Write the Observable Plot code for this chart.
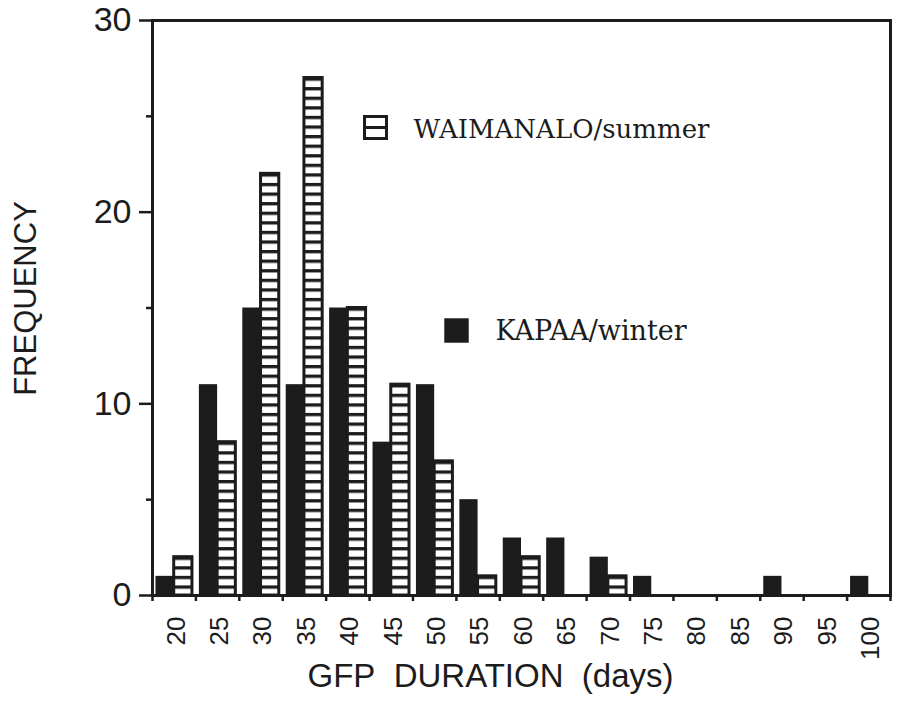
<!DOCTYPE html>
<html>
<head>
<meta charset="utf-8">
<script src="https://cdn.jsdelivr.net/npm/d3@7"></script>
<script src="https://cdn.jsdelivr.net/npm/@observablehq/plot@0.6"></script>
<style>
  html, body { margin: 0; padding: 0; background: #fff; }
</style>
</head>
<body>
<div id="chart"></div>
<script>
// GFP duration bins (days)
const bins = [20, 25, 30, 35, 40, 45, 50, 55, 60, 65, 70, 75, 80, 85, 90, 95, 100];
// KAPAA / winter (solid black bars)
const kapaaWinter = [1, 11, 15, 11, 15, 8, 11, 5, 3, 3, 2, 1, 0, 0, 1, 0, 1];
// WAIMANALO / summer (hatched bars)
const waimanaloSummer = [2, 8, 22, 27, 15, 11, 7, 1, 2, 0, 1, 0, 0, 0, 0, 0, 0];
// axis ticks
const yMajorTicks = [0, 10, 20, 30];
const yMinorTicks = [5, 15, 25];
const binEdges = [17.5, 22.5, 27.5, 32.5, 37.5, 42.5, 47.5, 52.5, 57.5, 62.5, 67.5, 72.5, 77.5, 82.5, 87.5, 92.5, 97.5, 102.5];
// texts
const seriesNames = ["WAIMANALO/summer", "KAPAA/winter"];
const xTitle = "GFP\u00a0\u00a0DURATION\u00a0\u00a0(days)";
const yTitle = "FREQUENCY";

const rows = bins.map((b, i) => ({bin: b, kapaa: kapaaWinter[i], waimanalo: waimanaloSummer[i]}));
const halfWidth = 2.1;
const ink = "#1c1c1c";
const serif = "'DejaVu Serif', 'Liberation Serif', serif";

const chart = Plot.plot({
  width: 897,
  height: 702,
  marginLeft: 152,
  marginRight: 7,
  marginTop: 20,
  marginBottom: 107,
  style: {fontFamily: "'Liberation Sans', Arial, sans-serif", color: ink, background: "#fff"},
  x: {domain: [17.5, 102.5]},
  y: {domain: [0, 30]},
  marks: [
    Plot.rectY(rows, {x1: d => d.bin - halfWidth, x2: d => d.bin, y1: 0, y2: d => d.kapaa, fill: ink}),
    Plot.rectY(rows.filter(d => d.waimanalo > 0), {x1: d => d.bin, x2: d => d.bin + halfWidth, y1: 0, y2: d => d.waimanalo, fill: "url(#hatch)", stroke: ink, strokeWidth: 3}),
    Plot.frame({stroke: ink, strokeWidth: 3}),
    Plot.axisY({ticks: yMajorTicks, tickSize: 13, tickPadding: 8, fontSize: 34, strokeWidth: 2.5, label: null}),
    Plot.axisY({ticks: yMinorTicks, tickSize: 6, tickFormat: () => "", strokeWidth: 2.5, label: null}),
    Plot.axisX({ticks: binEdges, tickSize: 6, tickFormat: () => "", strokeWidth: 2.5, label: null}),
    Plot.axisX({ticks: bins, tickSize: 0, tickPadding: 21, tickRotate: -90, fontSize: 26, dx: 2, label: null}),
    // legend
    Plot.dot([seriesNames[0]], {frameAnchor: "top-left", dx: 375 - 152, dy: 127 - 20, symbol: "square", r: 12.4, fill: "url(#legendHatch)", stroke: ink, strokeWidth: 3}),
    Plot.text([seriesNames[0]], {frameAnchor: "top-left", dx: 413 - 152, dy: 129 - 20, text: d => d, textAnchor: "start", lineAnchor: "middle", fontSize: 26, fontFamily: serif, fill: ink}),
    Plot.dot([seriesNames[1]], {frameAnchor: "top-left", dx: 456 - 152, dy: 330 - 20, symbol: "square", r: 13.8, fill: ink}),
    Plot.text([seriesNames[1]], {frameAnchor: "top-left", dx: 495 - 152, dy: 331 - 20, text: d => d, textAnchor: "start", lineAnchor: "middle", fontSize: 27, fontFamily: serif, fill: ink}),
    // axis titles
    Plot.text([xTitle], {frameAnchor: "bottom", dx: 490 - 521, dy: 676 - 595, text: d => d, textAnchor: "middle", lineAnchor: "middle", fontSize: 33, fill: ink}),
    Plot.text([yTitle], {frameAnchor: "left", dx: 26 - 152, dy: 298 - 307.5, text: d => d, rotate: -90, textAnchor: "middle", lineAnchor: "middle", fontSize: 31, fill: ink})
  ]
});

// hatch pattern aligned to the y scale baseline
const yScale = chart.scale("y");
const y0 = yScale.apply(0);
const period = Math.abs(yScale.apply(0) - yScale.apply(0.5));
const defs = d3.select(chart).insert("defs", ":first-child");
const pat = defs.append("pattern")
  .attr("id", "hatch")
  .attr("patternUnits", "userSpaceOnUse")
  .attr("x", 0)
  .attr("y", (y0 % period))
  .attr("width", 8)
  .attr("height", period);
pat.append("rect").attr("width", 8).attr("height", period).attr("fill", "#fff");
pat.append("rect").attr("width", 8).attr("height", 3.3).attr("fill", ink);

// legend swatch: a single middle bar (symbol drawn around its own origin)
const lp = defs.append("pattern")
  .attr("id", "legendHatch")
  .attr("patternUnits", "userSpaceOnUse")
  .attr("x", 0)
  .attr("y", -1.5)
  .attr("width", 8)
  .attr("height", 40);
lp.append("rect").attr("width", 8).attr("height", 40).attr("fill", "#fff");
lp.append("rect").attr("width", 8).attr("height", 3).attr("fill", ink);

document.getElementById("chart").appendChild(chart);
</script>
</body>
</html>
